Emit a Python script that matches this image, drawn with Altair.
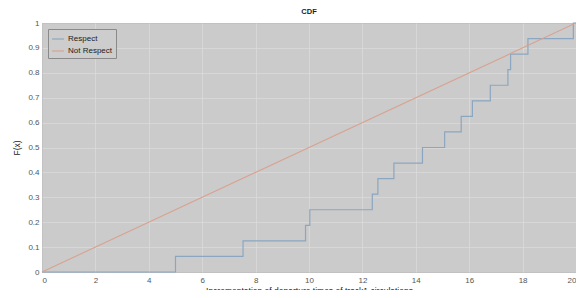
import altair as alt
import pandas as pd

# Respect empirical CDF: step positions and levels
respect_x = [0, 5.0, 7.53, 9.87, 10.03, 12.37, 12.58, 13.18, 14.25, 15.08, 15.7,
             16.12, 16.79, 17.45, 17.55, 18.2, 19.9, 20]
respect_y = [0, 0.0625, 0.125, 0.1875, 0.25, 0.3125, 0.375, 0.4375, 0.5, 0.5625,
             0.625, 0.6875, 0.75, 0.8125, 0.875, 0.9375, 1.0, 1.0]

# Not Respect (uniform CDF)
not_x = [0, 20]
not_y = [0, 1]

series = ["Respect", "Not Respect"]
colors = ["#8ba6c0", "#d8a290"]

x_ticks = list(range(0, 21, 2))
y_ticks = [0, 0.1, 0.2, 0.3, 0.4, 0.5, 0.6, 0.7, 0.8, 0.9, 1]

df = pd.concat([
    pd.DataFrame({"x": respect_x, "y": respect_y, "s": series[0]}),
    pd.DataFrame({"x": not_x, "y": not_y, "s": series[1]}),
])

color = alt.Color("s:N", scale=alt.Scale(domain=series, range=colors),
                  legend=alt.Legend(title=None, orient="top-left", offset=6,
                                    symbolType="stroke", symbolSize=140,
                                    symbolStrokeWidth=1.2, labelFontSize=8,
                                    labelColor="#222", labelFont="Liberation Sans",
                                    fillColor="#cdcdcd", strokeColor="#8a8a8a",
                                    padding=3, rowPadding=1, labelOffset=3))

x_enc = alt.X("x:Q", scale=alt.Scale(domain=[0, 20], nice=False),
              axis=alt.Axis(values=x_ticks, title="Incrementation of departure times of track1 circulations",
                            format="d"))
y_enc = alt.Y("y:Q", scale=alt.Scale(domain=[0, 1], nice=False),
              axis=alt.Axis(values=y_ticks, title="F(x)", labelExpr="datum.value == 0 ? '0' : datum.value == 1 ? '1' : format(datum.value, '.1f')"))

resp = alt.Chart(df).transform_filter(alt.datum.s == "Respect").mark_line(
    interpolate="step-after", strokeWidth=1.2).encode(x=x_enc, y=y_enc, color=color)
notr = alt.Chart(df).transform_filter(alt.datum.s == "Not Respect").mark_line(
    strokeWidth=1.1).encode(x=x_enc, y=y_enc, color=color)

chart = alt.layer(resp, notr).properties(
    width=534, height=249,
    title=alt.TitleParams("CDF", fontSize=7.5, fontWeight="bold", font="Liberation Sans",
                          color="#222", offset=4),
    autosize=alt.AutoSizeParams(type="none"),
    padding={"left": 34, "top": 15, "right": 0, "bottom": 18},
    background="white",
).configure_view(
    fill="#cbcbcb", stroke="#8f8f8f", strokeWidth=1
).configure_axis(
    grid=True, gridColor="#dedede", gridWidth=0.8, gridOpacity=0.8,
    domain=False, ticks=False,
    labelFont="Liberation Sans", labelFontSize=8, labelColor="#555",
    titleFont="Liberation Sans", titleFontSize=8.5, titleColor="#222",
    titleFontWeight="normal", labelPadding=3
).configure_axisX(titlePadding=2, labelPadding=4).configure_axisY(titlePadding=6)

chart.save("out.html", embed_options={"renderer": "svg", "actions": False})
